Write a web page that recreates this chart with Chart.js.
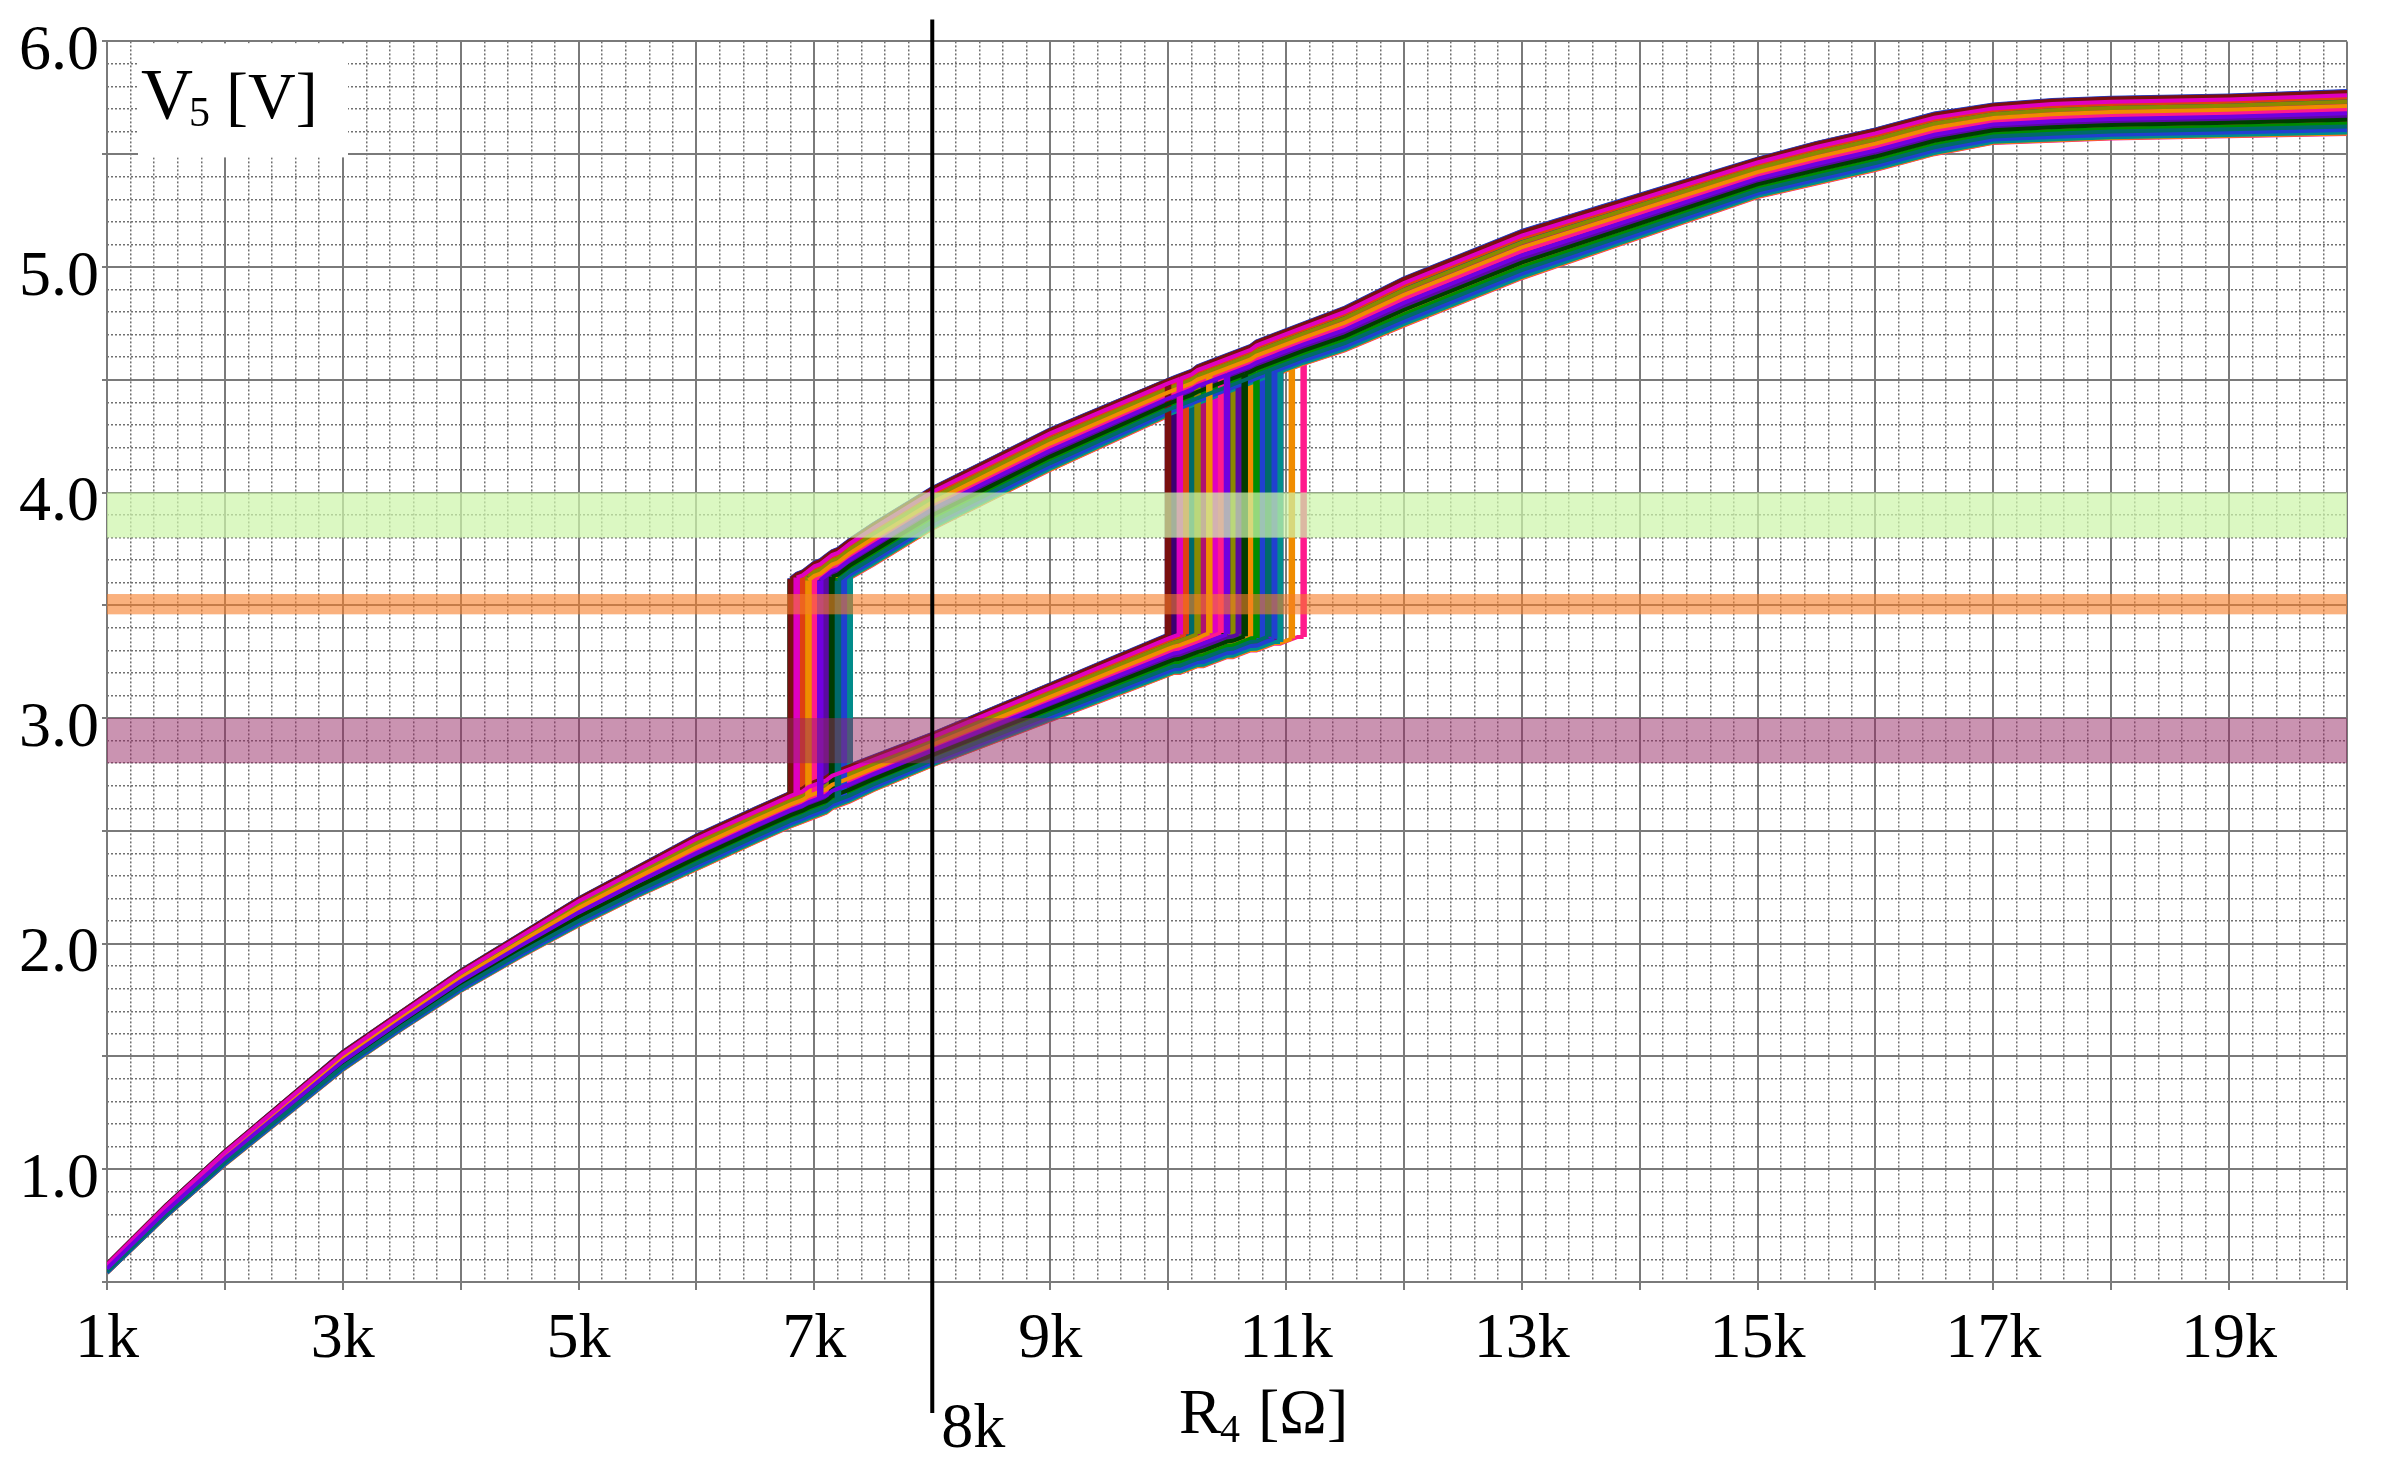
<!DOCTYPE html>
<html>
<head>
<meta charset="utf-8">
<script src="https://cdn.jsdelivr.net/npm/chart.js@4.4.0/dist/chart.umd.min.js"></script>
<style>
  html,body{margin:0;padding:0;background:#fff;}
  #wrap{width:2381px;height:1468px;}
</style>
</head>
<body>
<div id="wrap"><canvas id="c" width="2381" height="1468"></canvas></div>
<script>
// R4 sample points [kΩ], shared by both branches
const R_GRID = [1,1.5,2,2.5,3,3.5,4,4.5,5,5.5,6,6.5,
  6.8,6.85,6.9,6.95,7,7.05,7.1,7.15,7.2,7.25,7.3,
  7.5,8,8.5,9,9.5,
  10,10.05,10.1,10.15,10.2,10.25,10.3,10.35,10.4,10.45,10.5,10.55,10.6,10.65,10.7,10.75,10.8,10.85,10.9,10.95,11,11.05,11.1,11.15,
  11.5,12,13,14,15,15.5,16,16.5,17,17.5,18,19,20];

// lower branch (R4 rising): upper and lower edge of the Monte-Carlo bundle [V]
const LOW_TOP = [0.58,0.84,1.08,1.30,1.52,1.70,1.88,2.04,2.20,2.34,2.48,2.60,
  2.67,2.68,2.69,2.71,2.72,2.73,2.74,2.76,2.77,2.78,2.79,
  2.83,2.93,3.04,3.15,3.26,
  3.37,3.38,3.39,3.40,3.41,3.42,3.44,3.45,3.46,3.47,3.48,3.49,3.50,3.51,3.52,3.53,3.55,3.56,3.57,3.58,3.59,3.60,3.61,3.62,
  null,null,null,null,null,null,null,null,null,null,null,null,null];
const LOW_BOT = [0.54,0.79,1.02,1.23,1.44,1.62,1.79,1.94,2.08,2.21,2.33,2.45,
  2.52,2.53,2.54,2.55,2.56,2.57,2.58,2.60,2.61,2.62,2.63,
  2.68,2.79,2.89,2.99,3.09,
  3.19,3.20,3.20,3.21,3.22,3.23,3.23,3.24,3.25,3.26,3.27,3.27,3.28,3.29,3.30,3.30,3.31,3.32,3.33,3.33,3.34,3.35,3.36,3.36,
  null,null,null,null,null,null,null,null,null,null,null,null,null];

// upper branch (R4 falling)
const UP_TOP = [null,null,null,null,null,null,null,null,null,null,null,null,
  3.62,3.64,3.65,3.67,3.69,3.70,3.72,3.74,3.75,3.77,3.79,
  3.86,4.02,4.15,4.28,4.39,
  4.50,4.51,4.52,4.53,4.54,4.56,4.57,4.58,4.59,4.60,4.61,4.62,4.63,4.64,4.65,4.67,4.68,4.69,4.70,4.71,4.72,4.73,4.74,4.75,
  4.82,4.95,5.16,5.32,5.48,5.55,5.61,5.68,5.72,5.74,5.75,5.76,5.78];
const UP_BOT = [null,null,null,null,null,null,null,null,null,null,null,null,
  3.45,3.47,3.48,3.50,3.52,3.53,3.55,3.57,3.58,3.60,3.62,
  3.68,3.84,3.97,4.10,4.22,
  4.34,4.35,4.36,4.37,4.38,4.39,4.40,4.41,4.42,4.43,4.44,4.45,4.46,4.47,4.48,4.49,4.50,4.51,4.52,4.53,4.54,4.55,4.56,4.57,
  4.63,4.74,4.95,5.13,5.31,5.37,5.43,5.50,5.55,5.56,5.57,5.58,5.59];

// one entry per Monte-Carlo run: place inside the bundle (0 = top, 1 = bottom), switching points [kΩ]
const POS = [0.52,0.10,0.83,0.35,0.67,0.02,0.91,0.44,0.25,0.76,0.58,0.15,0.97,0.31,0.63,0.06,0.86,0.40,0.21,0.72,
  0.49,0.12,0.80,0.37,0.55,0.04,0.94,0.28,0.69,0.18,0.88,0.46,0.08,0.60,0.33,0.99,0.24,0.78,0.00,1.00,
  0.57,0.14,0.89,0.42,0.70,0.27,0.95,0.09,0.65,0.36,0.81,0.20,0.53,0.01,0.74,0.47,0.92,0.30,0.62,0.84];
const JUMP_UP = [10.5,10.1,10.85,10.35,10.65,10,10.9,10.45,10.25,10.75,10.6,10.15,10.95,10.3,10.65,10.05,10.85,10.4,10.2,10.7,
  10.5,10.1,10.8,10.35,10.55,10.05,10.95,10.3,10.7,10.2,10.9,10.45,10.1,10.6,10.35,11.05,10.25,10.8,10,11.15,
  10.55,10.15,10.9,10.4,10.7,10.25,10.95,10.1,10.65,10.35,10.8,10.2,10.55,10,10.75,10.45,10.9,10.3,10.6,10.85];
const JUMP_DOWN = [7.05,6.85,7.2,6.95,7.15,6.8,7.25,7,6.95,7.2,7.1,6.9,7.3,6.95,7.1,6.85,7.25,7,6.9,7.15,
  7.05,6.85,7.2,7,7.1,6.8,7.25,6.95,7.15,6.9,7.25,7.05,6.85,7.1,6.95,7.3,6.9,7.2,6.8,7.3,
  7.1,6.85,7.25,7,7.15,6.95,7.3,6.85,7.15,7,7.2,6.9,7.05,6.8,7.15,7.05,7.25,6.95,7.1,7.2];
const COLORS = ['#7000e0','#e000c0','#006a6a','#f08c00','#003c00','#7a1010','#2040d0','#ff1a8c',
  '#8a8a00','#008c00','#5a0aa0','#e04010','#008c8c','#b01070','#2a6040','#3c0070'];

// tolerance bands and the 8k marker
const BAND_LO = [3.8, 3.46, 2.8];
const BAND_HI = [4.0, 3.55, 3.0];
const BAND_COLORS = ['rgba(205,245,170,0.72)','rgba(247,125,40,0.6)','rgba(150,40,100,0.5)'];
const MARKER_R = 8;

const X_TICKS = [1,3,5,7,9,11,13,15,17,19];
const X_LABELS = ['1k','3k','5k','7k','9k','11k','13k','15k','17k','19k'];
const Y_TICKS = [1,2,3,4,5,6];
const Y_LABELS = ['1.0','2.0','3.0','4.0','5.0','6.0'];

const SERIF = '"Liberation Serif", "Times New Roman", serif';
Chart.defaults.font.family = SERIF;

const datasets = POS.map((p, i) => {
  const low = k => LOW_TOP[k] + p * (LOW_BOT[k] - LOW_TOP[k]);
  const up = k => UP_TOP[k] + p * (UP_BOT[k] - UP_TOP[k]);
  const ju = R_GRID.indexOf(JUMP_UP[i]), jd = R_GRID.indexOf(JUMP_DOWN[i]);
  const pts = [];
  for (let k = 0; k <= ju; k++) pts.push({x: R_GRID[k], y: low(k)});
  for (let k = ju; k < R_GRID.length; k++) pts.push({x: R_GRID[k], y: up(k)});
  pts.push({x: R_GRID[jd], y: null});
  pts.push({x: R_GRID[jd], y: low(jd)});
  for (let k = jd; k <= ju; k++) pts.push({x: R_GRID[k], y: up(k)});
  return {data: pts, borderColor: COLORS[i % COLORS.length], borderWidth: 4,
    segment: {borderWidth: c => c.p0.parsed.x === c.p1.parsed.x ? 6.5 : 4},
    pointRadius: 0, tension: 0, spanGaps: false, fill: false};
});

const near = (v, step) => Math.abs(v / step - Math.round(v / step)) < 1e-6;
const GRID = '#7a7a7a';

const overlay = {
  id: 'overlay',
  afterDatasetsDraw(chart) {
    const {ctx, chartArea: a, scales: {x, y}} = chart;
    ctx.save();
    BAND_LO.forEach((lo, i) => {
      const t = y.getPixelForValue(BAND_HI[i]), b = y.getPixelForValue(lo);
      ctx.fillStyle = BAND_COLORS[i];
      ctx.fillRect(a.left, t, a.right - a.left, b - t);
    });
    const mx = x.getPixelForValue(MARKER_R);
    ctx.strokeStyle = '#000';
    ctx.lineWidth = 4;
    ctx.beginPath();
    ctx.moveTo(mx, a.top - 22);
    ctx.lineTo(mx, a.bottom + 131);
    ctx.stroke();
    ctx.restore();
  },
  afterDraw(chart) {
    const {ctx, chartArea: a, scales: {x}} = chart;
    ctx.save();
    ctx.fillStyle = '#fff';
    ctx.fillRect(a.left + 31, a.top + 2, 210, 114);
    ctx.fillStyle = '#000';
    ctx.textAlign = 'left';
    ctx.textBaseline = 'alphabetic';
    ctx.font = '72px ' + SERIF;
    ctx.fillText('V', a.left + 34, a.top + 77);
    ctx.font = '66px ' + SERIF;
    ctx.fillText('[V]', a.left + 119, a.top + 77);
    ctx.font = '42px ' + SERIF;
    ctx.fillText('5', a.left + 82, a.top + 85);
    // x axis title and marker label
    const mx = x.getPixelForValue(MARKER_R);
    ctx.font = '64px ' + SERIF;
    ctx.fillText('8k', mx + 9, a.bottom + 165);
    ctx.fillText('R', 1179, a.bottom + 151);
    ctx.fillText('[Ω]', 1258, a.bottom + 151);
    ctx.font = '40px ' + SERIF;
    ctx.fillText('4', 1220, a.bottom + 160);
    ctx.restore();
  }
};

new Chart(document.getElementById('c'), {
  type: 'line',
  data: {datasets},
  plugins: [overlay],
  options: {
    responsive: false,
    animation: false,
    events: [],
    layout: {padding: {top: 40, right: 34, left: 0, bottom: 0}},
    plugins: {legend: {display: false}, tooltip: {enabled: false}},
    scales: {
      xMinor: {
        type: 'linear', position: 'bottom', min: 1, max: 20,
        ticks: {display: false, stepSize: 0.2, maxTicksLimit: 1000},
        grid: {drawTicks: false, lineWidth: 1.5,
          color: c => near(c.tick.value, 1) ? 'rgba(0,0,0,0)' : '#707070'},
        border: {display: false, dash: [2, 2]},
        afterFit: s => { s.height = 0; }
      },
      yMinor: {
        type: 'linear', position: 'left', min: 0.5, max: 6,
        ticks: {display: false, stepSize: 0.1, maxTicksLimit: 1000},
        grid: {drawTicks: false, lineWidth: 1.5,
          color: c => near(c.tick.value, 0.5) ? 'rgba(0,0,0,0)' : '#707070'},
        border: {display: false, dash: [2, 2]},
        afterFit: s => { s.width = 0; }
      },
      x: {
        type: 'linear', position: 'bottom', min: 1, max: 20,
        ticks: {
          stepSize: 1, maxTicksLimit: 100, autoSkip: false, maxRotation: 0,
          color: '#000', font: {size: 64}, padding: 12,
          callback: v => { const i = X_TICKS.indexOf(v); return i < 0 ? '' : X_LABELS[i]; }
        },
        grid: {color: GRID, lineWidth: 2, tickLength: 8, tickColor: GRID},
        border: {color: GRID, width: 2},
        afterFit: s => { s.height = 186; }
      },
      y: {
        type: 'linear', position: 'left', min: 0.5, max: 6,
        ticks: {
          stepSize: 0.5, maxTicksLimit: 100, autoSkip: false,
          color: '#000', font: {size: 64}, padding: 3, labelOffset: 11,
          callback: v => { const i = Y_TICKS.indexOf(v); return i < 0 ? '' : Y_LABELS[i]; }
        },
        grid: {color: GRID, lineWidth: 2, tickLength: 5, tickColor: GRID},
        border: {color: GRID, width: 2},
        afterFit: s => { s.width = 107; }
      }
    }
  }
});
</script>
</body>
</html>
